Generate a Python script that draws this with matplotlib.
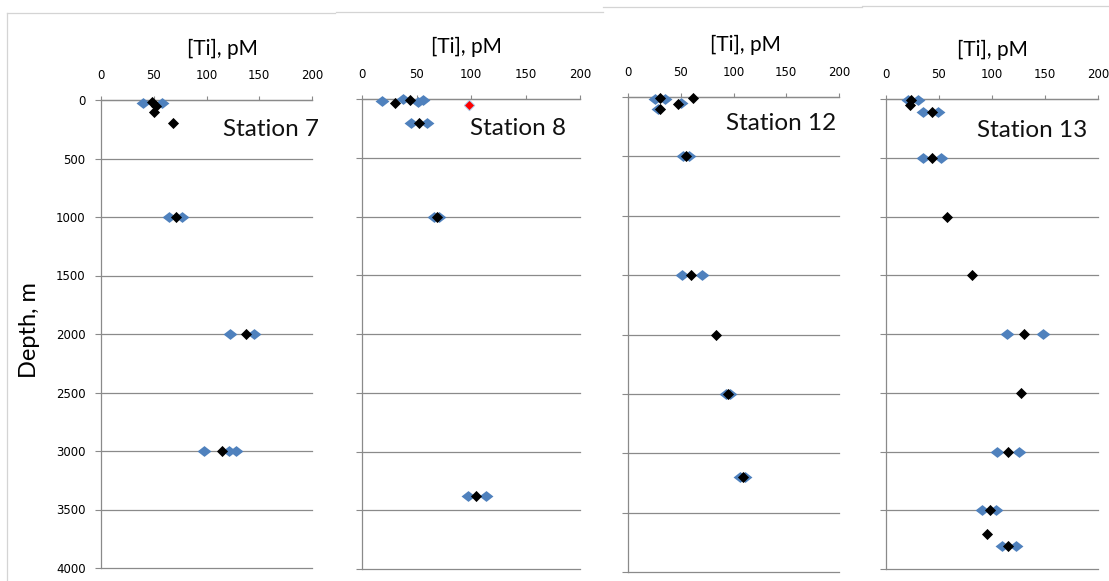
import matplotlib.pyplot as plt
from matplotlib.lines import Line2D

# [Ti] profiles, pM vs depth, m
st7_blue_ti = [40, 58, 64, 77, 122, 145, 98, 121, 128]
st7_blue_depth = [25, 25, 1000, 1000, 2000, 2000, 3000, 3000, 3000]
st7_black_ti = [48, 52, 50, 68, 71, 137, 115]
st7_black_depth = [20, 50, 100, 200, 1000, 2000, 3000]

st8_blue_ti = [18, 38, 51, 56, 45, 60, 66, 71, 97, 114]
st8_blue_depth = [20, 0, 25, 5, 200, 200, 1000, 1000, 3380, 3380]
st8_black_ti = [30, 44, 52, 69, 105]
st8_black_depth = [30, 5, 200, 1000, 3380]
st8_red_ti = [98]
st8_red_depth = [50]

st12_blue_ti = [26, 35, 28, 50, 52, 58, 51, 70, 93, 97, 106, 111]
st12_blue_depth = [15, 15, 100, 50, 500, 500, 1500, 1500, 2500, 2500, 3200, 3200]
st12_black_ti = [30, 30, 47, 62, 55, 60, 83, 95, 109]
st12_black_depth = [10, 100, 60, 5, 500, 1500, 2000, 2500, 3200]

st13_blue_ti = [21, 30, 35, 49, 35, 52, 114, 148, 105, 125, 91, 104, 109, 123]
st13_blue_depth = [10, 10, 110, 110, 500, 500, 2000, 2000, 3000, 3000, 3500, 3500, 3800, 3800]
st13_black_ti = [24, 23, 43, 43, 58, 81, 130, 127, 115, 98, 95, 115]
st13_black_depth = [5, 50, 110, 500, 1000, 1500, 2000, 2500, 3000, 3500, 3700, 3800]

stations = ['Station 7', 'Station 8', 'Station 12', 'Station 13']
x_ticks = [0, 50, 100, 150, 200]
depth_ticks = [0, 500, 1000, 1500, 2000, 2500, 3000, 3500, 4000]

W, H = 1109, 581
fig = plt.figure(figsize=(W / 100, H / 100), dpi=100)
fig.patch.set_facecolor('white')


def box(l, r, t, b):
    return [l / W, 1 - b / H, (r - l) / W, (b - t) / H]


# plot areas (left, right, top, bottom in px)
boxes = [box(101, 312, 100, 568), box(362, 580, 99, 569),
         box(628, 839, 97, 572), box(886, 1098, 99, 569)]
title_pos = [(222, 49), (466, 47), (745, 45), (992, 50)]
label_pos = [(0.806, 256), (0.716, 247), (0.727, 227), (0.691, 264)]

series = [
    (st7_blue_ti, st7_blue_depth, st7_black_ti, st7_black_depth),
    (st8_blue_ti, st8_blue_depth, st8_black_ti, st8_black_depth),
    (st12_blue_ti, st12_blue_depth, st12_black_ti, st12_black_depth),
    (st13_blue_ti, st13_blue_depth, st13_black_ti, st13_black_depth),
]

wide_diamond = [(-1, 0), (0, 0.78), (1, 0), (0, -0.78), (-1, 0)]
diamond = [(-1, 0), (0, 1), (1, 0), (0, -1), (-1, 0)]
grid_col = '#8a8a8a'
blue = '#4F81BD'

for i, (bx, by, kx, ky) in enumerate(series):
    ax = fig.add_axes(boxes[i])
    ax.set_xlim(0, 200)
    ax.set_ylim(4000, 0)
    ax.set_xticks(x_ticks)
    ax.set_yticks(depth_ticks)
    ax.xaxis.tick_top()
    for side in ['right', 'bottom']:
        ax.spines[side].set_visible(False)
    for side in ['left', 'top']:
        ax.spines[side].set_color(grid_col)
        ax.spines[side].set_linewidth(0.9)
    ax.tick_params(axis='x', direction='out', length=3, width=0.8, color=grid_col,
                   pad=10, labelsize=8.5, labelcolor='black')
    ax.tick_params(axis='y', direction='out', length=4, width=0.8, color=grid_col,
                   pad=7, labelsize=8.5, labelcolor='black')
    if i > 0:
        ax.set_yticklabels([])
    ax.yaxis.grid(True, color=grid_col, linewidth=0.9)
    for gl in ax.yaxis.get_gridlines():
        gl.set_clip_on(False)
    ax.set_axisbelow(True)

    ax.plot(bx, by, linestyle='none', marker=wide_diamond, markersize=10,
            color=blue, markeredgewidth=0, zorder=3, clip_on=False)
    ax.plot(kx, ky, linestyle='none', marker=diamond, markersize=8,
            color='black', markeredgewidth=0, zorder=4, clip_on=False)
    if i == 1:
        ax.plot(st8_red_ti, st8_red_depth, linestyle='none', marker=diamond,
                markersize=7.5, color='#FF0000', markeredgecolor='#a9c4e4',
                markeredgewidth=0.7, zorder=5)

    tx, ty = title_pos[i]
    fig.text(tx / W, 1 - ty / H, '[Ti], pM', ha='center', va='center',
             fontsize=15, family='Lato', color='black')
    lx, ly = label_pos[i]
    ax.text(lx, ly, stations[i], transform=ax.get_yaxis_transform(),
            ha='center', va='center', fontsize=17.5, family='Lato', color='#111111')

fig.text(29 / W, 1 - 330 / H, 'Depth, m', rotation=90, ha='center', va='center',
         fontsize=17, family='Lato', color='black')

# chart-area borders
border = '#d4d4d4'
for (x0, y0, x1, y1) in [(7, 13, 335, 13), (7, 13, 7, 581), (336, 12, 603, 12),
                         (603, 7, 862, 7), (862, 6, 1109, 6)]:
    fig.add_artist(Line2D([x0 / W, x1 / W], [1 - y0 / H, 1 - y1 / H],
                          color=border, linewidth=0.9, transform=fig.transFigure))

plt.savefig('out.png', dpi=100, facecolor='white')
